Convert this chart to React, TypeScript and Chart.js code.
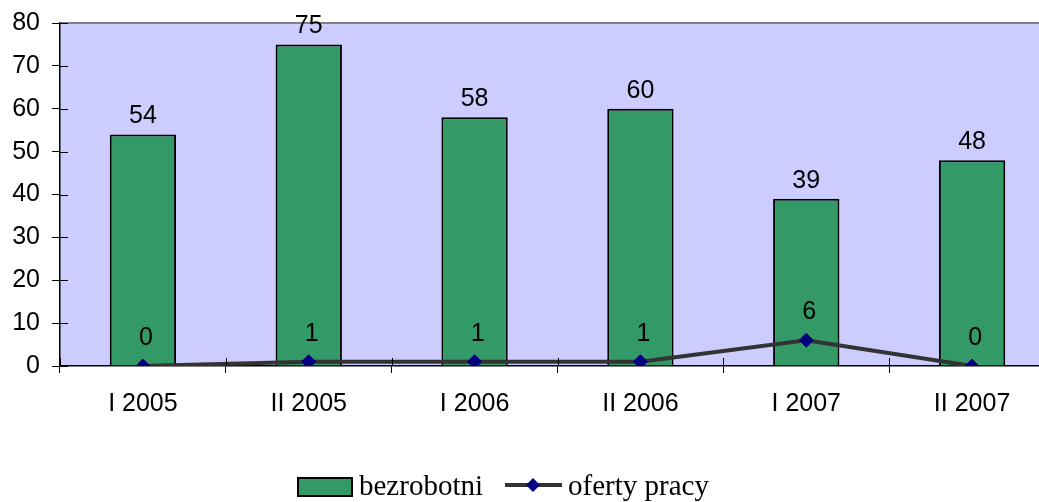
import React, { useEffect, useRef } from "react";
import { Chart, registerables } from "chart.js";

Chart.register(...registerables);

const categories = ["I 2005", "II 2005", "I 2006", "II 2006", "I 2007", "II 2007"];
const unemployed = [54, 75, 58, 60, 39, 48];
const offers = [0, 1, 1, 1, 6, 0];
const yTicks = [0, 10, 20, 30, 40, 50, 60, 70, 80];
const seriesNames = ["bezrobotni", "oferty pracy"];

const SANS = "'Liberation Sans', Arial, sans-serif";
const SERIF = "'Liberation Serif', 'Times New Roman', serif";

const decorPlugin = {
  id: "decor",
  beforeDraw(chart: any) {
    const { ctx, chartArea } = chart;
    ctx.save();
    ctx.fillStyle = "#CCCCFF";
    ctx.fillRect(chartArea.left, chartArea.top, chartArea.right - chartArea.left, chartArea.bottom - chartArea.top);
    ctx.restore();
  },
  afterDraw(chart: any) {
    const { ctx, chartArea } = chart;
    const xs = chart.scales.x;
    const ys = chart.scales.y;
    ctx.save();
    ctx.strokeStyle = "#808080";
    ctx.lineWidth = 2;
    ctx.beginPath();
    ctx.moveTo(chartArea.left, chartArea.top);
    ctx.lineTo(chartArea.right, chartArea.top);
    ctx.stroke();
    ctx.strokeStyle = "#000";
    ctx.lineWidth = 1;
    yTicks.forEach((v) => {
      const y = Math.round(ys.getPixelForValue(v)) + 0.5;
      ctx.beginPath();
      ctx.moveTo(chartArea.left, y);
      ctx.lineTo(chartArea.left + 8, y);
      ctx.stroke();
    });
    for (let i = 0; i <= categories.length; i++) {
      const x = Math.round(xs.getPixelForValue(i - 0.5)) + 0.5;
      ctx.beginPath();
      ctx.moveTo(x, chartArea.bottom - 8);
      ctx.lineTo(x, chartArea.bottom);
      ctx.stroke();
    }
    ctx.fillStyle = "#000";
    ctx.font = `25px ${SANS}`;
    ctx.textAlign = "center";
    ctx.textBaseline = "alphabetic";
    const barMeta = chart.getDatasetMeta(1);
    barMeta.data.forEach((el: any, i: number) => {
      ctx.fillText(String(unemployed[i]), el.x, el.y - 11);
    });
    const lineMeta = chart.getDatasetMeta(0);
    lineMeta.data.forEach((el: any, i: number) => {
      ctx.fillText(String(offers[i]), el.x + 3, el.y - 21);
    });
    // legend
    ctx.fillStyle = "#339966";
    ctx.fillRect(298, 478, 54, 18);
    ctx.strokeStyle = "#000";
    ctx.lineWidth = 2;
    ctx.strokeRect(298, 478, 54, 18);
    ctx.font = `29px ${SERIF}`;
    ctx.textAlign = "left";
    ctx.fillStyle = "#000";
    ctx.fillText(seriesNames[0], 359, 495);
    ctx.strokeStyle = "#333333";
    ctx.lineWidth = 4;
    ctx.beginPath();
    ctx.moveTo(505, 485);
    ctx.lineTo(562, 485);
    ctx.stroke();
    ctx.fillStyle = "#000080";
    ctx.beginPath();
    ctx.moveTo(533, 478);
    ctx.lineTo(540, 485);
    ctx.lineTo(533, 492);
    ctx.lineTo(526, 485);
    ctx.closePath();
    ctx.fill();
    ctx.fillStyle = "#000";
    ctx.fillText(seriesNames[1], 568, 495);
    ctx.restore();
  },
};

export default function App() {
  const ref = useRef<HTMLCanvasElement | null>(null);
  useEffect(() => {
    if (!ref.current) return;
    const chart = new Chart(ref.current, {
      type: "bar",
      data: {
        labels: categories,
        datasets: [
          {
            type: "line",
            label: seriesNames[1],
            data: offers,
            order: 0,
            borderColor: "#333333",
            borderWidth: 4,
            pointStyle: "rectRot",
            pointRadius: 7,
            pointBackgroundColor: "#000080",
            pointBorderColor: "#000080",
            pointBorderWidth: 1,
            tension: 0,
          } as any,
          {
            type: "bar",
            label: seriesNames[0],
            data: unemployed,
            order: 1,
            backgroundColor: "#339966",
            borderColor: "#000000",
            borderWidth: 2,
            barPercentage: 0.4,
            categoryPercentage: 1,
          } as any,
        ],
      },
      plugins: [decorPlugin],
      options: {
        responsive: false,
        animation: false,
        devicePixelRatio: 1,
        layout: { padding: { top: 23, right: 1, left: 0, bottom: 0 } },
        plugins: { legend: { display: false }, tooltip: { enabled: false } },
        scales: {
          x: {
            offset: true,
            grid: { display: true, drawOnChartArea: false, offset: true, tickLength: 7, color: "#000", lineWidth: 1 },
            border: { display: true, color: "#000", width: 1.5 },
            ticks: { color: "#000", font: { size: 25, family: SANS }, padding: 16, maxRotation: 0 },
            afterFit: (s: any) => { s.height = 136; s.paddingLeft = 0; s.paddingRight = 0; },
          },
          y: {
            min: 0,
            max: 80,
            grid: { display: true, drawOnChartArea: false, tickLength: 8, color: "#000", lineWidth: 1 },
            border: { display: true, color: "#000", width: 1.5 },
            ticks: { stepSize: 10, color: "#000", font: { size: 25, family: SANS }, padding: 12 },
            afterFit: (s: any) => { s.width = 60; s.paddingTop = 0; s.paddingBottom = 0; },
          },
        },
      },
    });
    return () => chart.destroy();
  }, []);
  return (
    <div style={{ position: "fixed", left: 0, top: 0, width: 1039, height: 502, overflow: "hidden", background: "#fff" }}>
      <canvas ref={ref} width={1063} height={502} style={{ display: "block", width: 1063, height: 502 }} />
    </div>
  );
}
